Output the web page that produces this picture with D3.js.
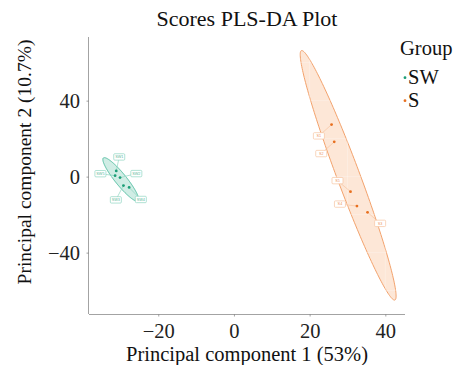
<!DOCTYPE html>
<html>
<head>
<meta charset="utf-8">
<script src="https://cdn.jsdelivr.net/npm/d3@7/dist/d3.min.js"></script>
<style>
  html, body { margin: 0; padding: 0; background: #fff; }
  svg { display: block; }
</style>
</head>
<body>
<svg id="chart" width="459" height="365"></svg>
<script>
// ---- data ----
const samples = ["SW1", "SW5", "SW2", "SW3", "SW4", "S1", "S2", "S5", "S4", "S3"];
const groups  = ["SW", "SW", "SW", "SW", "SW", "S", "S", "S", "S", "S"];
const pc1     = [-31.1, -31.4, -30.1, -29.2, -27.7, 25.8, 26.5, 30.8, 32.5, 35.3];
const pc2     = [3.0, 0.5, -0.5, -4.7, -5.7, 27.4, 18.3, -7.9, -15.5, -18.8];
const groupNames = ["SW", "S"];
const xTicks = [-20, 0, 20, 40];
const yTicks = [-40, 0, 40];
const xLimits = [-38.3, 45.2];
const yLimits = [-72.3, 73.5];

// ---- layout ----
const SERIF = '"Liberation Serif", "Times New Roman", Times, serif';
const SANS = '"Liberation Sans", Arial, sans-serif';
const panel = { left: 89, right: 405, top: 37, bottom: 314 };
const colors = { SW: "#1B9E77", S: "#E8701F" };
const fills  = { SW: "#CBEBE2", S: "#FDE4D3" };
const strokes = { SW: "#52BFA2", S: "#F3A26C" };
const labelBorder = { SW: "#8FD5C2", S: "#F7C4A0" };
// repelled label offsets in px (label centre relative to its point)
const labelOffsets = [[3, -14], [-14.7, -2], [16.3, -4], [-7.6, 14.3], [11.7, 12],
                      [-12.7, 11.3], [-13, 11.7], [-13, -11], [-17, -2], [12.6, 11]];
const ellipseRadius = 3.15;

const svg = d3.select("#chart");
const x = d3.scaleLinear().domain(xLimits).range([panel.left, panel.right]);
const y = d3.scaleLinear().domain(yLimits).range([panel.bottom, panel.top]);

const pts = samples.map((s, i) => ({ name: s, group: groups[i], x: pc1[i], y: pc2[i], off: labelOffsets[i] }));

// confidence ellipse from each group's covariance
function ellipsePath(g) {
  const p = pts.filter(d => d.group === g);
  const n = p.length;
  const mx = d3.mean(p, d => d.x), my = d3.mean(p, d => d.y);
  let sxx = 0, syy = 0, sxy = 0;
  p.forEach(d => { sxx += (d.x - mx) ** 2; syy += (d.y - my) ** 2; sxy += (d.x - mx) * (d.y - my); });
  sxx /= n - 1; syy /= n - 1; sxy /= n - 1;
  const tr = sxx + syy, det = sxx * syy - sxy * sxy;
  const disc = Math.sqrt(tr * tr / 4 - det);
  const l1 = tr / 2 + disc, l2 = tr / 2 - disc;
  let v1 = [sxy, l1 - sxx];
  const nv = Math.hypot(v1[0], v1[1]);
  v1 = [v1[0] / nv, v1[1] / nv];
  const v2 = [-v1[1], v1[0]];
  const a = Math.sqrt(l1) * ellipseRadius, b = Math.sqrt(Math.max(l2, 0)) * ellipseRadius;
  const ring = d3.range(0, 201).map(k => {
    const t = 2 * Math.PI * k / 200;
    const ex = mx + a * Math.cos(t) * v1[0] + b * Math.sin(t) * v2[0];
    const ey = my + a * Math.cos(t) * v1[1] + b * Math.sin(t) * v2[1];
    return [x(ex), y(ey)];
  });
  return d3.line()(ring) + "Z";
}

const plot = svg.append("g");
groupNames.forEach(g => {
  plot.append("path").attr("d", ellipsePath(g))
    .attr("fill", fills[g]).attr("fill-opacity", 0.9)
    .attr("stroke", strokes[g]).attr("stroke-width", 1);
});

// faint grid showing through the filled ellipses
const gridX = d3.range(-20, 45, 10), gridY = d3.range(-60, 70, 20);
plot.append("g").selectAll("line").data(gridX).join("line")
  .attr("x1", d => x(d)).attr("x2", d => x(d)).attr("y1", panel.top).attr("y2", panel.bottom)
  .attr("stroke", "#fff").attr("stroke-opacity", 0.45).attr("stroke-width", 0.6);
plot.append("g").selectAll("line").data(gridY).join("line")
  .attr("y1", d => y(d)).attr("y2", d => y(d)).attr("x1", panel.left).attr("x2", panel.right)
  .attr("stroke", "#fff").attr("stroke-opacity", 0.45).attr("stroke-width", 0.6);

// leader lines
plot.append("g").selectAll("line").data(pts).join("line")
  .attr("x1", d => x(d.x)).attr("y1", d => y(d.y))
  .attr("x2", d => x(d.x) + d.off[0]).attr("y2", d => y(d.y) + d.off[1])
  .attr("stroke", d => labelBorder[d.group]).attr("stroke-width", 0.7);

// points
plot.append("g").selectAll("circle").data(pts).join("circle")
  .attr("cx", d => x(d.x)).attr("cy", d => y(d.y)).attr("r", 1.4)
  .attr("fill", d => colors[d.group]);

// sample labels
const lab = plot.append("g").selectAll("g").data(pts).join("g")
  .attr("transform", d => `translate(${x(d.x) + d.off[0]},${y(d.y) + d.off[1]})`);
lab.append("rect").attr("x", -5.5).attr("y", -3.2).attr("width", 11).attr("height", 6.4)
  .attr("rx", 1).attr("fill", "#fff").attr("stroke", d => labelBorder[d.group]).attr("stroke-width", 0.7);
lab.append("text").attr("text-anchor", "middle").attr("dy", "0.35em")
  .style("font-family", SANS).style("font-size", "3.8px")
  .attr("fill", d => colors[d.group]).attr("fill-opacity", 0.8).text(d => d.name);

// axes
const axisColor = "#8c8c8c";
const gx = svg.append("g").attr("transform", `translate(0,${panel.bottom})`)
  .call(d3.axisBottom(x).tickValues(xTicks).tickSize(2.5).tickPadding(7).tickFormat(d3.format("d")));
const gy = svg.append("g").attr("transform", `translate(${panel.left},0)`)
  .call(d3.axisLeft(y).tickValues(yTicks).tickSize(2.5).tickPadding(6.5).tickFormat(d3.format("d")));
[gx, gy].forEach(g => {
  g.select(".domain").attr("stroke", axisColor).attr("stroke-width", 0.8);
  g.selectAll(".tick line").attr("stroke", axisColor).attr("stroke-width", 0.8);
  g.selectAll(".tick text").attr("fill", "#222")
    .style("font-family", SERIF).style("font-size", "20.5px");
});
gx.select(".domain").attr("d", `M${panel.left},0.5H${panel.right}`);
gy.select(".domain").attr("d", `M-0.5,${panel.top}V${panel.bottom}`);

// titles
svg.append("text").attr("x", (panel.left + panel.right) / 2).attr("y", 26)
  .attr("text-anchor", "middle").style("font-family", SERIF).style("font-size", "22px")
  .attr("fill", "#111").text("Scores PLS-DA Plot");
svg.append("text").attr("x", (panel.left + panel.right) / 2).attr("y", 360.5)
  .attr("text-anchor", "middle").style("font-family", SERIF).style("font-size", "20.5px")
  .attr("fill", "#111").text("Principal component 1 (53%)");
svg.append("text").attr("transform", "translate(31,162) rotate(-90)")
  .attr("text-anchor", "middle").style("font-family", SERIF).style("font-size", "19.5px")
  .attr("fill", "#111").text("Principal component 2 (10.7%)");

// legend
const leg = svg.append("g");
leg.append("text").attr("x", 400).attr("y", 55).style("font-family", SERIF).style("font-size", "20.5px")
  .attr("fill", "#111").text("Group");
groupNames.forEach((g, i) => {
  const cy = 77.7 + i * 23;
  leg.append("circle").attr("cx", 405).attr("cy", cy).attr("r", 1.4).attr("fill", colors[g]);
  leg.append("text").attr("x", 408).attr("y", cy + 6.5).style("font-family", SERIF).style("font-size", "20.5px")
    .attr("fill", "#111").text(g);
});
</script>
</body>
</html>
